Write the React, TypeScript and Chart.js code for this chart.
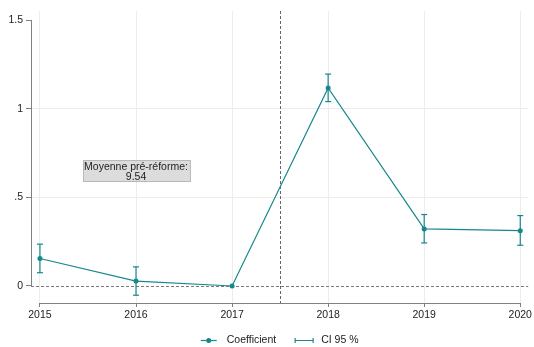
import React, { useEffect, useRef } from "react";
import { Chart, registerables } from "chart.js";

Chart.register(...registerables);

const years = [2015, 2016, 2017, 2018, 2019, 2020];
const coefficient = [0.155, 0.028, 0, 1.117, 0.322, 0.312];
const ciLow: (number | null)[] = [0.075, -0.052, null, 1.04, 0.243, 0.23];
const ciHigh: (number | null)[] = [0.236, 0.108, null, 1.195, 0.403, 0.397];
const yTicks = [0, 0.5, 1, 1.5];
const yTickLabels = ["0", ".5", "1", "1.5"];
const reformLine = 2017.5;
const annotationLines = ["Moyenne pré-réforme:", "9.54"];
const annotationAt = { x: 2016, y: 0.65 };
const legendLabels = ["Coefficient", "CI 95 %"];

const FAMILY = '"Liberation Sans", Arial, Helvetica, sans-serif';
const FONT_SIZE = 10.5;
const FONT = `${FONT_SIZE}px ${FAMILY}`;
const TEAL = "#16878c";
const AXIS = "#808080";
const GRID = "#ececec";
const TEXT = "#222222";

const overlay = {
  id: "overlay",
  beforeDatasetsDraw(chart: any) {
    const { ctx, chartArea: a, scales } = chart;
    const x = scales.x;
    const y = scales.y;
    const seg = (x1: number, y1: number, x2: number, y2: number) => {
      ctx.beginPath();
      ctx.moveTo(x1, y1);
      ctx.lineTo(x2, y2);
      ctx.stroke();
    };
    ctx.save();
    ctx.lineWidth = 1;
    ctx.setLineDash([3, 2]);
    ctx.strokeStyle = "#7a7a7a";
    const y0 = Math.round(y.getPixelForValue(0)) + 0.5;
    seg(a.left, y0, a.right, y0);
    ctx.strokeStyle = "#666666";
    const xr = Math.round(x.getPixelForValue(reformLine)) + 0.5;
    seg(xr, a.top, xr, a.bottom);
    ctx.setLineDash([]);
    ctx.strokeStyle = AXIS;
    const ax = Math.round(a.left) + 0.5;
    seg(ax, y.getPixelForValue(yTicks[0]), ax, y.getPixelForValue(yTicks[yTicks.length - 1]));
    const ay = Math.round(a.bottom) + 0.5;
    seg(x.getPixelForValue(years[0]), ay, x.getPixelForValue(years[years.length - 1]) + 0.5, ay);
    ctx.strokeStyle = TEAL;
    ctx.lineWidth = 1.2;
    years.forEach((yr, i) => {
      const lo = ciLow[i];
      const hi = ciHigh[i];
      if (lo == null || hi == null) return;
      const px = x.getPixelForValue(yr);
      const pl = y.getPixelForValue(lo);
      const ph = y.getPixelForValue(hi);
      seg(px, pl, px, ph);
      seg(px - 3, pl, px + 3, pl);
      seg(px - 3, ph, px + 3, ph);
    });
    ctx.restore();
  },
  afterDatasetsDraw(chart: any) {
    const { ctx, scales } = chart;
    const cx = scales.x.getPixelForValue(annotationAt.x);
    const cy = scales.y.getPixelForValue(annotationAt.y);
    ctx.save();
    ctx.font = FONT;
    const w = Math.max(...annotationLines.map((t) => ctx.measureText(t).width)) + 3;
    const h = 21;
    const left = Math.round(cx - w / 2) + 0.5;
    const top = Math.round(cy - h / 2) + 0.5;
    ctx.fillStyle = "#dcdcdc";
    ctx.fillRect(left, top, w, h);
    ctx.strokeStyle = "#b8b8b8";
    ctx.lineWidth = 1;
    ctx.strokeRect(left, top, w, h);
    ctx.fillStyle = TEXT;
    ctx.textAlign = "center";
    ctx.textBaseline = "alphabetic";
    annotationLines.forEach((t, i) => {
      ctx.fillText(t, cx, top + 9.5 + i * 9.5);
    });
    ctx.restore();
  },
  afterDraw(chart: any) {
    const { ctx, chartArea: a } = chart;
    ctx.save();
    ctx.font = FONT;
    const symW = [16, 18];
    const gap = [10, 8];
    const spacing = 19;
    const widths = legendLabels.map((t, i) => symW[i] + gap[i] + ctx.measureText(t).width);
    const total = widths.reduce((s, v) => s + v, 0) + spacing;
    let x0 = (a.left + a.right) / 2 - total / 2;
    const yc = 340.5;
    ctx.strokeStyle = TEAL;
    ctx.fillStyle = TEAL;
    ctx.lineWidth = 1.2;
    ctx.beginPath();
    ctx.moveTo(x0, yc);
    ctx.lineTo(x0 + symW[0], yc);
    ctx.stroke();
    ctx.beginPath();
    ctx.arc(x0 + symW[0] / 2, yc, 2.5, 0, Math.PI * 2);
    ctx.fill();
    ctx.fillStyle = TEXT;
    ctx.textBaseline = "middle";
    ctx.fillText(legendLabels[0], x0 + symW[0] + gap[0], yc);
    x0 += widths[0] + spacing;
    ctx.beginPath();
    ctx.moveTo(x0, yc);
    ctx.lineTo(x0 + symW[1], yc);
    ctx.moveTo(x0, yc - 2.5);
    ctx.lineTo(x0, yc + 2.5);
    ctx.moveTo(x0 + symW[1], yc - 2.5);
    ctx.lineTo(x0 + symW[1], yc + 2.5);
    ctx.stroke();
    ctx.fillText(legendLabels[1], x0 + symW[1] + gap[1], yc);
    ctx.restore();
  },
};

export default function App() {
  const ref = useRef<HTMLCanvasElement | null>(null);
  useEffect(() => {
    document.body.style.margin = "0";
    if (!ref.current) return;
    const chart = new Chart(ref.current, {
      type: "line",
      data: {
        datasets: [
          {
            label: legendLabels[0],
            data: years.map((yr, i) => ({ x: yr, y: coefficient[i] })),
            borderColor: TEAL,
            backgroundColor: TEAL,
            borderWidth: 1.2,
            pointRadius: 2.5,
            pointBorderWidth: 0,
            pointBackgroundColor: TEAL,
            tension: 0,
          },
        ],
      },
      options: {
        animation: false,
        responsive: true,
        maintainAspectRatio: false,
        layout: { padding: { top: 11, right: 3, bottom: 22, left: 0 } },
        plugins: { legend: { display: false }, tooltip: { enabled: false } },
        scales: {
          x: {
            type: "linear",
            min: 2015 - 9 / 96.6,
            max: 2020 + 8 / 96.6,
            afterBuildTicks: (s: any) => {
              s.ticks = years.map((v) => ({ value: v }));
            },
            afterFit: (s: any) => {
              s.height = 22;
            },
            ticks: {
              callback: (v: any) => String(v),
              font: { family: FAMILY, size: FONT_SIZE },
              color: TEXT,
              padding: 2,
              maxRotation: 0,
            },
            grid: { color: GRID, tickLength: 4, tickColor: AXIS, lineWidth: 1 },
            border: { display: false },
          },
          y: {
            type: "linear",
            min: -17 / 177.33,
            max: 1.5 + 9 / 177.33,
            afterBuildTicks: (s: any) => {
              s.ticks = yTicks.map((v) => ({ value: v }));
            },
            afterFit: (s: any) => {
              s.width = 31;
            },
            ticks: {
              callback: (v: any) => {
                const i = yTicks.indexOf(v);
                return i >= 0 ? yTickLabels[i] : "";
              },
              font: { family: FAMILY, size: FONT_SIZE },
              color: TEXT,
              padding: 3,
            },
            grid: {
              color: (c: any) => {
                const v = c.tick ? c.tick.value : null;
                return v === 0 || v === 1.5 ? "rgba(0,0,0,0)" : GRID;
              },
              tickLength: 5,
              tickColor: AXIS,
              lineWidth: 1,
            },
            border: { display: false },
          },
        },
      },
      plugins: [overlay],
    });
    return () => chart.destroy();
  }, []);
  return (
    <div style={{ width: 534, height: 347, position: "relative" }}>
      <canvas ref={ref} />
    </div>
  );
}
